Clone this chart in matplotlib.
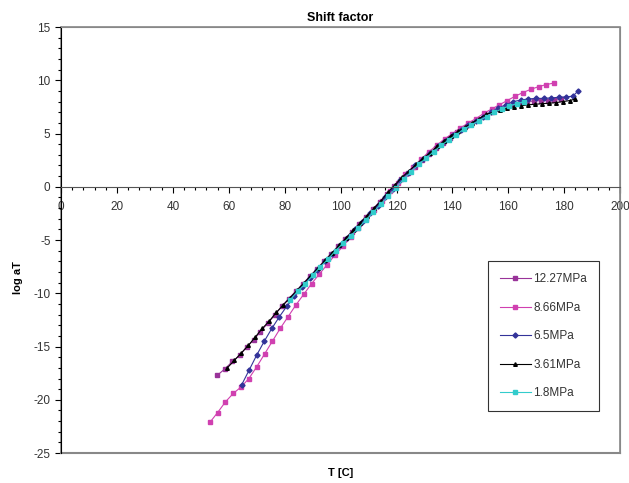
import numpy as np
import matplotlib
matplotlib.use("Agg")
import matplotlib.pyplot as plt
from matplotlib.ticker import MultipleLocator

plt.rcParams["font.family"] = ["Liberation Sans", "DejaVu Sans"]
plt.rcParams["axes.unicode_minus"] = False

# 12.27 MPa
t_1227 = [55.9, 58.6, 61.3, 64.0, 66.5, 68.9, 71.3, 74.0, 76.6, 79.0, 81.4, 84.0,
          86.5, 89.0, 91.5, 94.0, 96.5, 99.0, 101.5, 104.0, 106.5, 109.0, 111.5,
          114.0, 116.5, 119.0, 121.5, 124.0, 126.5, 129.0, 131.5, 134.0, 136.5,
          139.0, 141.5, 144.0, 146.5, 149.0, 151.5, 154.0, 156.5, 159.0, 161.5,
          164.0, 166.5, 169.0, 171.5, 174.0, 176.5, 179.0]
y_1227 = [-17.7, -17.1, -16.4, -15.8, -15.0, -14.4, -13.6, -12.8, -12.0, -11.2,
          -10.5, -9.8, -9.1, -8.4, -7.7, -7.0, -6.3, -5.6, -4.9, -4.2, -3.5, -2.8,
          -2.1, -1.4, -0.7, 0.1, 0.7, 1.3, 1.9, 2.5, 3.1, 3.6, 4.1, 4.6, 5.1, 5.5,
          5.9, 6.3, 6.7, 7.0, 7.3, 7.6, 7.8, 7.9, 8.0, 8.05, 8.1, 8.1, 8.15, 8.2]

# 8.66 MPa
t_866 = [53.3, 56.0, 58.8, 61.6, 64.4, 67.2, 70.0, 72.8, 75.6, 78.4, 81.2, 84.0,
         86.8, 89.6, 92.4, 95.2, 98.0, 100.8, 103.6, 106.4, 109.2, 112.0, 114.8,
         117.6, 120.4, 123.2, 126.0, 128.8, 131.6, 134.4, 137.2, 140.0, 142.8,
         145.6, 148.4, 151.2, 154.0, 156.8, 159.6, 162.4, 165.2, 168.0, 170.8,
         173.6, 176.4]
y_866 = [-22.1, -21.2, -20.2, -19.4, -18.8, -18.0, -16.9, -15.7, -14.5, -13.3,
         -12.2, -11.1, -10.1, -9.1, -8.2, -7.3, -6.4, -5.6, -4.7, -3.9, -3.0, -2.2,
         -1.3, -0.4, 0.4, 1.2, 1.9, 2.6, 3.3, 3.9, 4.5, 5.0, 5.5, 6.0, 6.4, 6.9,
         7.3, 7.7, 8.1, 8.5, 8.85, 9.15, 9.4, 9.6, 9.75]

# 6.5 MPa
t_65 = [64.6, 67.3, 70.0, 72.7, 75.4, 78.1, 80.8, 83.5, 86.2, 88.9, 91.6, 94.3,
        97.0, 99.7, 102.4, 105.1, 107.8, 110.5, 113.2, 115.9, 118.6, 121.3, 124.0,
        126.7, 129.4, 132.1, 134.8, 137.5, 140.2, 142.9, 145.6, 148.3, 151.0,
        153.7, 156.4, 159.1, 161.8, 164.5, 167.2, 169.9, 172.6, 175.3, 178.0,
        180.7, 183.0, 185.0]
y_65 = [-18.6, -17.2, -15.8, -14.5, -13.3, -12.2, -11.2, -10.3, -9.4, -8.6, -7.8,
        -7.0, -6.3, -5.5, -4.8, -4.0, -3.3, -2.5, -1.8, -1.0, -0.2, 0.6, 1.3, 2.0,
        2.6, 3.2, 3.8, 4.3, 4.9, 5.3, 5.8, 6.2, 6.6, 7.0, 7.4, 7.7, 8.0, 8.15,
        8.25, 8.3, 8.3, 8.35, 8.4, 8.45, 8.5, 9.0]

# 3.61 MPa
t_361 = [59.5, 62.0, 64.5, 67.0, 69.5, 72.0, 74.5, 77.0, 79.5, 82.0, 84.5, 87.0,
         89.5, 92.0, 94.5, 97.0, 99.5, 102.0, 104.5, 107.0, 109.5, 112.0, 114.5,
         117.0, 119.5, 122.0, 124.5, 127.0, 129.5, 132.0, 134.5, 137.0, 139.5,
         142.0, 144.5, 147.0, 149.5, 152.0, 154.5, 157.0, 159.5, 162.0, 164.5,
         167.0, 169.5, 172.0, 174.5, 177.0, 179.5, 182.0, 184.0]
y_361 = [-17.0, -16.3, -15.6, -14.9, -14.1, -13.3, -12.6, -11.8, -11.1, -10.4,
         -9.7, -9.0, -8.3, -7.6, -6.9, -6.2, -5.5, -4.8, -4.1, -3.4, -2.7, -2.0,
         -1.3, -0.5, 0.2, 0.9, 1.5, 2.1, 2.7, 3.2, 3.8, 4.3, 4.8, 5.2, 5.6, 6.0,
         6.4, 6.8, 7.0, 7.2, 7.4, 7.5, 7.6, 7.7, 7.75, 7.8, 7.85, 7.9, 8.0, 8.1,
         8.25]

# 1.8 MPa
t_18 = [82.0, 84.7, 87.4, 90.1, 92.8, 95.5, 98.2, 100.9, 103.6, 106.3, 109.0,
        111.7, 114.4, 117.1, 119.8, 122.5, 125.2, 127.9, 130.6, 133.3, 136.0,
        138.7, 141.4, 144.1, 146.8, 149.5, 152.2, 154.9, 157.6, 160.3, 163.0,
        165.7]
y_18 = [-10.6, -9.8, -9.1, -8.3, -7.5, -6.8, -6.0, -5.3, -4.6, -3.9, -3.1, -2.4,
        -1.6, -0.9, -0.1, 0.7, 1.4, 2.1, 2.7, 3.3, 3.9, 4.4, 4.9, 5.4, 5.8, 6.2,
        6.6, 7.0, 7.3, 7.6, 7.8, 8.0]

series = [
    ("12.27MPa", t_1227, y_1227, "#993399", "s"),
    ("8.66MPa", t_866, y_866, "#D040B0", "s"),
    ("6.5MPa", t_65, y_65, "#333399", "D"),
    ("3.61MPa", t_361, y_361, "black", "^"),
    ("1.8MPa", t_18, y_18, "#33CCCC", "s"),
]

fig = plt.figure(figsize=(6.29, 4.83), dpi=100)
ax = fig.add_axes([0.097, 0.062, 0.889, 0.882])

for label, t, y, color, marker in series:
    ax.plot(t, y, color=color, lw=0.8, marker=marker, ms=2.6, mec=color,
            mfc=color, label=label)

ax.set_xlim(0, 200)
ax.set_ylim(-25, 15)

# x axis drawn through y = 0, frame kept grey
ax.spines["bottom"].set_position(("data", 0))
ax.spines["bottom"].set_color("#555555")
ax.spines["left"].set_color("black")
ax.spines["top"].set_color("#888888")
ax.spines["right"].set_color("#888888")
ax.patch.set_edgecolor("#888888")
ax.patch.set_linewidth(1.2)
ax.axhline(-25, color="#888888", lw=1.5, clip_on=False)

ax.xaxis.set_major_locator(MultipleLocator(20))
ax.xaxis.set_minor_locator(MultipleLocator(4))
ax.yaxis.set_major_locator(MultipleLocator(5))
ax.yaxis.set_minor_locator(MultipleLocator(1))
ax.tick_params(which="major", length=4, width=0.8, labelsize=8.5,
               labelcolor="#333333", direction="out")
ax.tick_params(which="minor", length=2.5, width=0.8, direction="out")
ax.tick_params(axis="x", pad=6)

ax.set_title("Shift factor", fontsize=9, fontweight="bold", pad=4)
ax.set_ylabel("log aT", fontsize=8, fontweight="bold")
ax.yaxis.set_label_coords(-0.068, 0.413)
ax.text(0.5, -0.035, "T [C]", transform=ax.transAxes, ha="center", va="top",
        fontsize=8, fontweight="bold")

leg = ax.legend(loc="upper left", bbox_to_anchor=(0.764, 0.45), fontsize=8.5,
                frameon=True, fancybox=False, labelspacing=1.4,
                handlelength=2.6, handletextpad=0.2, borderpad=1.0,
                borderaxespad=0)
leg.get_frame().set_edgecolor("black")
leg.get_frame().set_linewidth(0.8)
for txt in leg.get_texts():
    txt.set_color("#333333")

fig.savefig("out.png", dpi=100)
